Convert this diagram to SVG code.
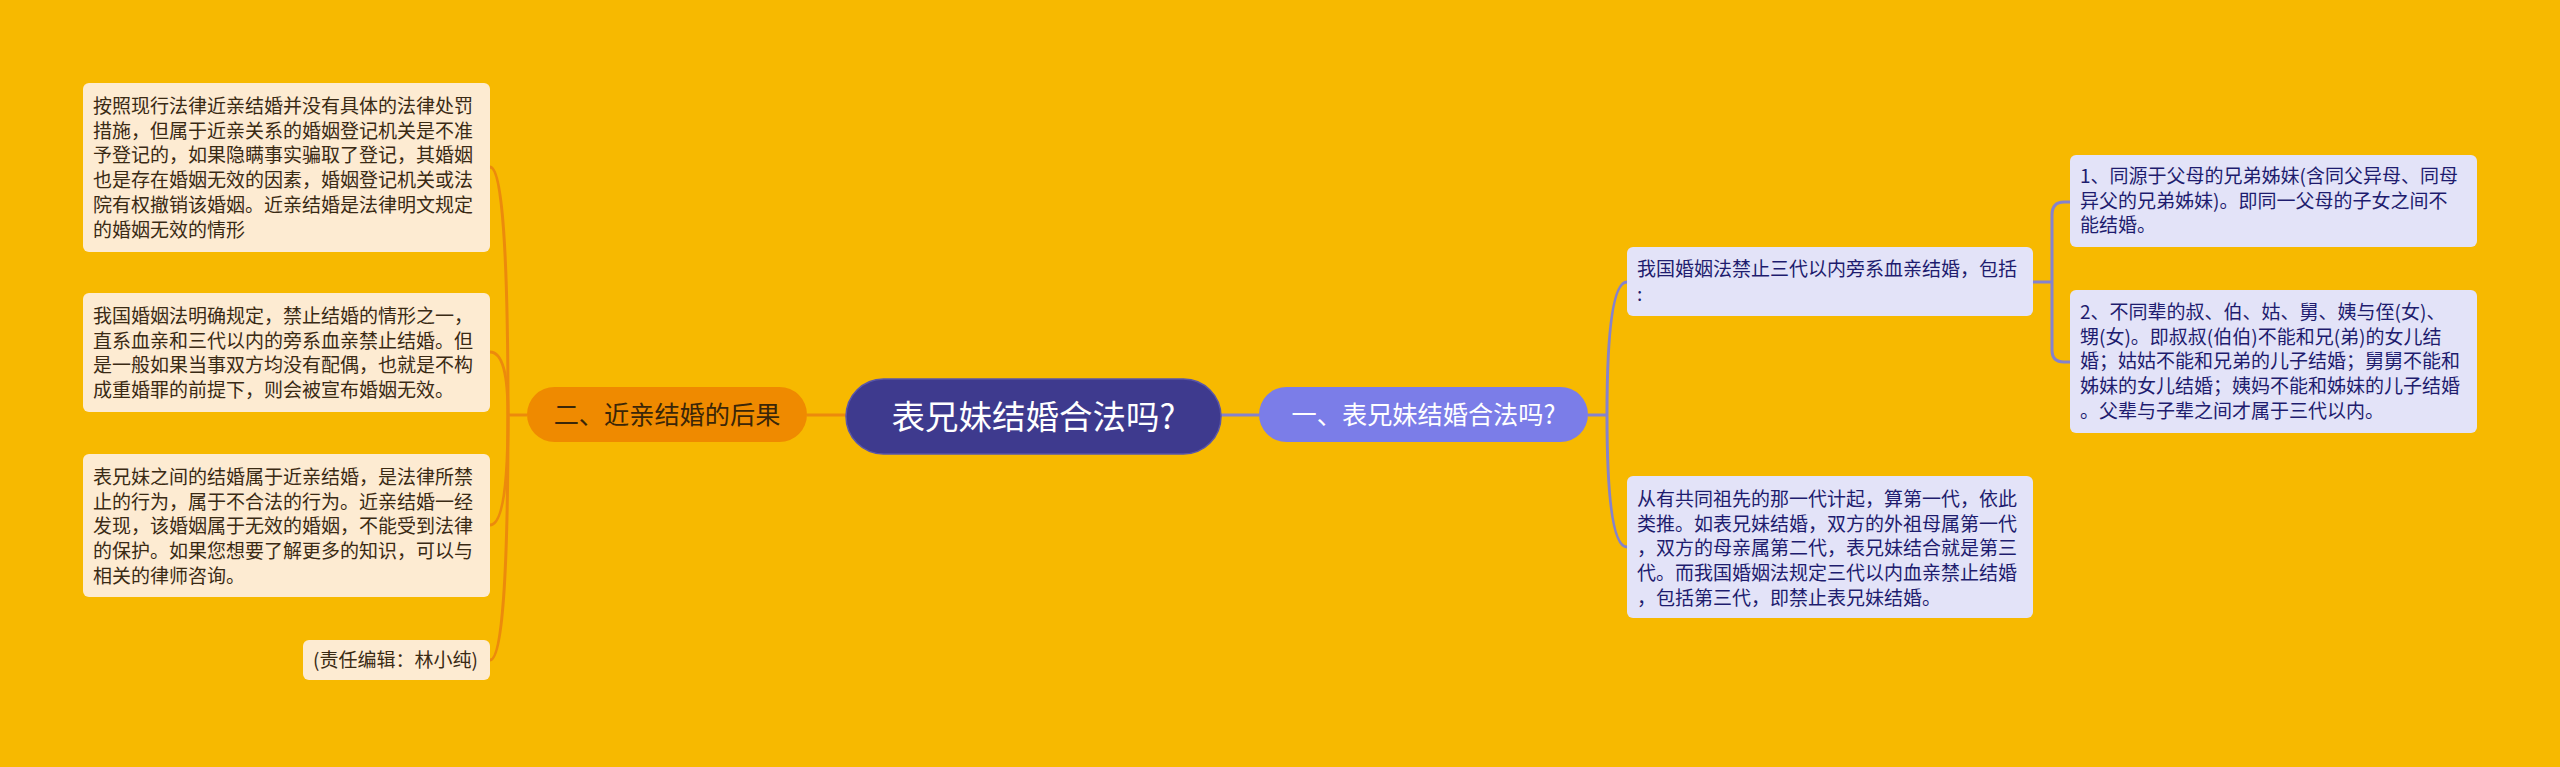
<svg xmlns="http://www.w3.org/2000/svg" width="2560" height="767" viewBox="0 0 2560 767">
<style>
text{font-family:"Noto Sans CJK SC","Noto Sans",sans-serif;}
.ll{fill:#fdebd2;}
.lt{font-size:19px;fill:#3a2a14;}
.rl{fill:#e3e3f8;}
.rt{font-size:19px;fill:#1e1c6e;}
.co{fill:none;stroke:#ec8a0c;stroke-width:3;}
.cb{fill:none;stroke:#8582cc;stroke-width:3;}
</style>
<rect width="2560" height="767" fill="#f7b900"/>
<g id="connectors">
<path class="co" d="M846 415 L807 415"/>
<path class="co" d="M527 415 L508 415"/>
<path class="co" d="M508 415 Q508 167 490 167"/>
<path class="co" d="M508 415 Q508 352 490 352"/>
<path class="co" d="M508 415 Q508 525 490 525"/>
<path class="co" d="M508 415 Q508 660 490 660"/>
<path class="cb" d="M1221 415 L1259 415"/>
<path class="cb" d="M1588 415 L1607 415"/>
<path class="cb" d="M1607 415 Q1607 282 1627 282"/>
<path class="cb" d="M1607 415 Q1607 547 1627 547"/>
<path class="cb" d="M2033 282 L2052 282"/>
<path class="cb" d="M2052 282 L2052 215 Q2052 202 2064 202 L2070 202"/>
<path class="cb" d="M2052 282 L2052 350 Q2052 362 2064 362 L2070 362"/>
</g>
<g id="root">
<rect x="846" y="379" width="375" height="75" rx="37.5" fill="#3e3a8e" stroke="#5a56a8" stroke-width="1.5"/>
<text x="1033.5" y="429" font-size="33.5" fill="#ffffff" text-anchor="middle">表兄妹结婚合法吗?</text>
</g>
<g id="branch-left">
<rect x="527" y="387" width="280" height="55" rx="27.5" fill="#ef8a00"/>
<text x="667" y="424" font-size="25.2" fill="#3a2608" text-anchor="middle">二、近亲结婚的后果</text>
</g>
<g id="branch-right">
<rect x="1259" y="387" width="329" height="55" rx="27.5" fill="#7b7de8"/>
<text x="1423.5" y="424" font-size="25.2" fill="#ffffff" text-anchor="middle">一、表兄妹结婚合法吗?</text>
</g>
<g id="left-1">
<rect class="ll" x="83" y="83" width="407" height="169" rx="6"/>
<text class="lt"><tspan x="93" y="113">按照现行法律近亲结婚并没有具体的法律处罚</tspan><tspan x="93" y="137.7">措施，但属于近亲关系的婚姻登记机关是不准</tspan><tspan x="93" y="162.4">予登记的，如果隐瞒事实骗取了登记，其婚姻</tspan><tspan x="93" y="187.1">也是存在婚姻无效的因素，婚姻登记机关或法</tspan><tspan x="93" y="211.8">院有权撤销该婚姻。近亲结婚是法律明文规定</tspan><tspan x="93" y="236.5">的婚姻无效的情形</tspan></text>
</g>
<g id="left-2">
<rect class="ll" x="83" y="293" width="407" height="119" rx="6"/>
<text class="lt"><tspan x="93" y="323">我国婚姻法明确规定，禁止结婚的情形之一，</tspan><tspan x="93" y="347.7">直系血亲和三代以内的旁系血亲禁止结婚。但</tspan><tspan x="93" y="372.4">是一般如果当事双方均没有配偶，也就是不构</tspan><tspan x="93" y="397.1">成重婚罪的前提下，则会被宣布婚姻无效。</tspan></text>
</g>
<g id="left-3">
<rect class="ll" x="83" y="454" width="407" height="143" rx="6"/>
<text class="lt"><tspan x="93" y="484">表兄妹之间的结婚属于近亲结婚，是法律所禁</tspan><tspan x="93" y="508.7">止的行为，属于不合法的行为。近亲结婚一经</tspan><tspan x="93" y="533.4">发现，该婚姻属于无效的婚姻，不能受到法律</tspan><tspan x="93" y="558.1">的保护。如果您想要了解更多的知识，可以与</tspan><tspan x="93" y="582.8">相关的律师咨询。</tspan></text>
</g>
<g id="left-4">
<rect class="ll" x="303" y="640" width="187" height="40" rx="6"/>
<text class="lt" x="313" y="667">(责任编辑：林小纯)</text>
</g>
<g id="right-1">
<rect class="rl" x="1627" y="247" width="406" height="69" rx="6"/>
<text class="rt"><tspan x="1637" y="276">我国婚姻法禁止三代以内旁系血亲结婚，包括</tspan><tspan x="1637" y="300.7">:</tspan></text>
</g>
<g id="right-2">
<rect class="rl" x="1627" y="476" width="406" height="142" rx="6"/>
<text class="rt"><tspan x="1637" y="506">从有共同祖先的那一代计起，算第一代，依此</tspan><tspan x="1637" y="530.7">类推。如表兄妹结婚，双方的外祖母属第一代</tspan><tspan x="1637" y="555.4">，双方的母亲属第二代，表兄妹结合就是第三</tspan><tspan x="1637" y="580.1">代。而我国婚姻法规定三代以内血亲禁止结婚</tspan><tspan x="1637" y="604.8">，包括第三代，即禁止表兄妹结婚。</tspan></text>
</g>
<g id="right-1-1">
<rect class="rl" x="2070" y="155" width="407" height="92" rx="6"/>
<text class="rt"><tspan x="2080" y="183">1、同源于父母的兄弟姊妹(含同父异母、同母</tspan><tspan x="2080" y="207.7">异父的兄弟姊妹)。即同一父母的子女之间不</tspan><tspan x="2080" y="232.4">能结婚。</tspan></text>
</g>
<g id="right-1-2">
<rect class="rl" x="2070" y="290" width="407" height="143" rx="6"/>
<text class="rt"><tspan x="2080" y="319">2、不同辈的叔、伯、姑、舅、姨与侄(女)、</tspan><tspan x="2080" y="343.7">甥(女)。即叔叔(伯伯)不能和兄(弟)的女儿结</tspan><tspan x="2080" y="368.4">婚；姑姑不能和兄弟的儿子结婚；舅舅不能和</tspan><tspan x="2080" y="393.1">姊妹的女儿结婚；姨妈不能和姊妹的儿子结婚</tspan><tspan x="2080" y="417.8">。父辈与子辈之间才属于三代以内。</tspan></text>
</g>
</svg>
